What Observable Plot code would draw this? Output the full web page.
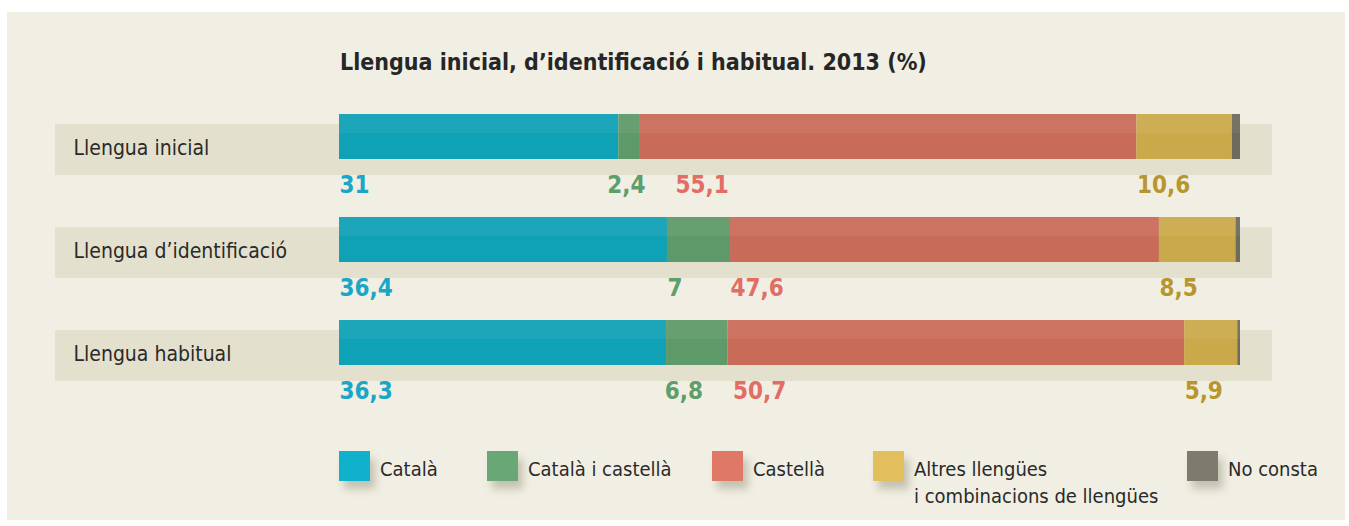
<!DOCTYPE html>
<html>
<head>
<meta charset="utf-8">
<script src="https://cdn.jsdelivr.net/npm/d3@7"></script>
<script src="https://cdn.jsdelivr.net/npm/@observablehq/plot@0.6"></script>
<style>
  html, body { margin: 0; padding: 0; background: #ffffff; }
  body { width: 1349px; height: 526px; overflow: hidden; position: relative;
         font-family: "DejaVu Sans Condensed", Lato, sans-serif; color: #2a2a2a; }
  #panel { position: absolute; left: 7px; top: 12px; width: 1338px; height: 508px; background: #f1efe3; }
  #chart { position: absolute; left: 0; top: 0; }
  #chart svg { background: transparent; overflow: visible; }
  #title { position: absolute; left: 340px; top: 50px; font-size: 23px; font-weight: bold; line-height: 24px; white-space: nowrap; color: #262626; }
  #legend { position: absolute; left: 339px; top: 451px; display: flex; align-items: flex-start; }
  .item { display: flex; align-items: flex-start; }
  .item:nth-child(1) { width: 148px; }
  .item:nth-child(2) { width: 225px; }
  .item:nth-child(3) { width: 161px; }
  .item:nth-child(4) { width: 314px; }
  .sw { width: 31px; height: 30px; margin-right: 10px; flex: none; box-shadow: 5px 8px 8px rgba(80,80,50,0.28); }
  .lab { font-size: 20px; line-height: 27px; margin-top: 5px; color: #2a2a2a; }
</style>
</head>
<body>
<div id="panel"></div>
<div id="chart"></div>
<div id="title">Llengua inicial, d’identificació i habitual. 2013 (%)</div>
<div id="legend"></div>
<script>
// ---- data ----
const rows = ["Llengua inicial", "Llengua d’identificació", "Llengua habitual"];
const categories = ["Català", "Català i castellà", "Castellà", "Altres llengües i combinacions de llengües", "No consta"];
const legendLabels = ["Català", "Català i castellà", "Castellà", "Altres llengües<br>i combinacions de llengües", "No consta"];
const catala         = [31,   36.4, 36.3];
const catalaCastella = [2.4,  7,    6.8];
const castella       = [55.1, 47.6, 50.7];
const altres         = [10.6, 8.5,  5.9];
const noConsta       = [0.9,  0.5,  0.3];

// ---- styles ----
const barColors    = ["#0fa1b5", "#5e9a69", "#c96b59", "#caa94b", "#6c6b5c"];
const legendColors = ["#10b1cd", "#6aa776", "#e07868", "#e2bf5c", "#7d7c6c"];
const labelColors  = ["#1aa6c6", "#5d9e6a", "#e26d64", "#b8962e"];
const labelFont = "bold 24px 'DejaVu Sans Condensed', Lato, sans-serif";

const series = [catala, catalaCastella, castella, altres, noConsta];
const segments = [];
rows.forEach((r, i) => series.forEach((s, j) => segments.push({row: r, category: categories[j], value: s[i]})));

const xOpts = {domain: [0, 100], range: [339, 1240]};
const xs = Plot.scale({x: xOpts});

// label layout from the data: start of each segment, with a simple collision push
const ctx = document.createElement("canvas").getContext("2d");
ctx.font = labelFont;
const labels = [];
const starts = [];
rows.forEach((r, i) => {
  let cum = 0;
  const row = [];
  for (let j = 0; j < 4; j++) {
    const v = series[j][i];
    const text = String(v).replace(".", ",");
    if (j > 0) starts.push({row: r, x: cum});
    row.push({row: r, category: categories[j], ci: j, text, px: xs.apply(cum), w: ctx.measureText(text).width});
    cum += v;
  }
  starts.push({row: r, x: cum});
  const gap = 30;
  for (let j = 2; j < row.length; j++) {
    const p = row[j - 1], n = row[j];
    const d = p.px + p.w + gap - n.px;
    if (d > 0) { p.px -= 0.25 * d; n.px += 0.75 * d; }
  }
  row.forEach(l => { l.x = xs.invert(l.px); labels.push(l); });
});

const yOpts = {type: "band", domain: rows, range: [113, 366], paddingInner: 0.567, paddingOuter: 0};
const ff = "DejaVu Sans Condensed, Lato, sans-serif";

const chart = Plot.plot({
  width: 1349, height: 526,
  marginLeft: 0, marginRight: 0, marginTop: 0, marginBottom: 0,
  x: {...xOpts, axis: null},
  y: {...yOpts, axis: null},
  color: {domain: categories, range: barColors},
  style: {background: "transparent", overflow: "visible"},
  marks: [
    // row band behind label + bar
    Plot.barX(rows, {x1: 0, x2: 100, y: d => d, fill: "#e3e1cd", insetLeft: -284, insetRight: -32, insetTop: -3, insetBottom: -3, dy: 13}),
    Plot.text(rows, {y: d => d, text: d => d, frameAnchor: "left", dx: 73, dy: 11, textAnchor: "start",
      fontSize: 21, fill: "#2a2a2a", fontFamily: ff}),
    Plot.barX(segments, Plot.stackX({x: "value", y: "row", fill: "category", ariaLabel: "segments"})),
    Plot.barX(segments, Plot.stackX({x: "value", y: "row", fill: "white", fillOpacity: 0.06, insetBottom: 26})),
    Plot.ruleX(starts, {x: "x", y: "row", stroke: "#000", strokeOpacity: 0.3, strokeWidth: 1.2}),
    ...[0, 1, 2, 3].map(j => Plot.text(labels.filter(l => l.ci === j), {
      x: "x", y: "row", text: "text", dy: 48, textAnchor: "start", fill: labelColors[j],
      fontSize: 24, fontWeight: "bold", ariaLabel: "vlabels", fontFamily: ff
    }))
  ]
});
document.getElementById("chart").appendChild(chart);
const seg = chart.querySelector('g[aria-label="segments"]');
if (seg) seg.style.filter = "drop-shadow(12px 9px 7px rgba(70,70,40,0.5))";
chart.querySelectorAll('g[aria-label="vlabels"]').forEach(g => g.style.filter = "drop-shadow(8px 10px 5px rgba(70,70,40,0.18))");

// legend
const lg = document.getElementById("legend");
categories.forEach((c, j) => {
  const it = document.createElement("div");
  it.className = "item";
  it.innerHTML = `<div class="sw" style="background:${legendColors[j]}"></div><div class="lab">${legendLabels[j]}</div>`;
  lg.appendChild(it);
});
</script>
</body>
</html>
